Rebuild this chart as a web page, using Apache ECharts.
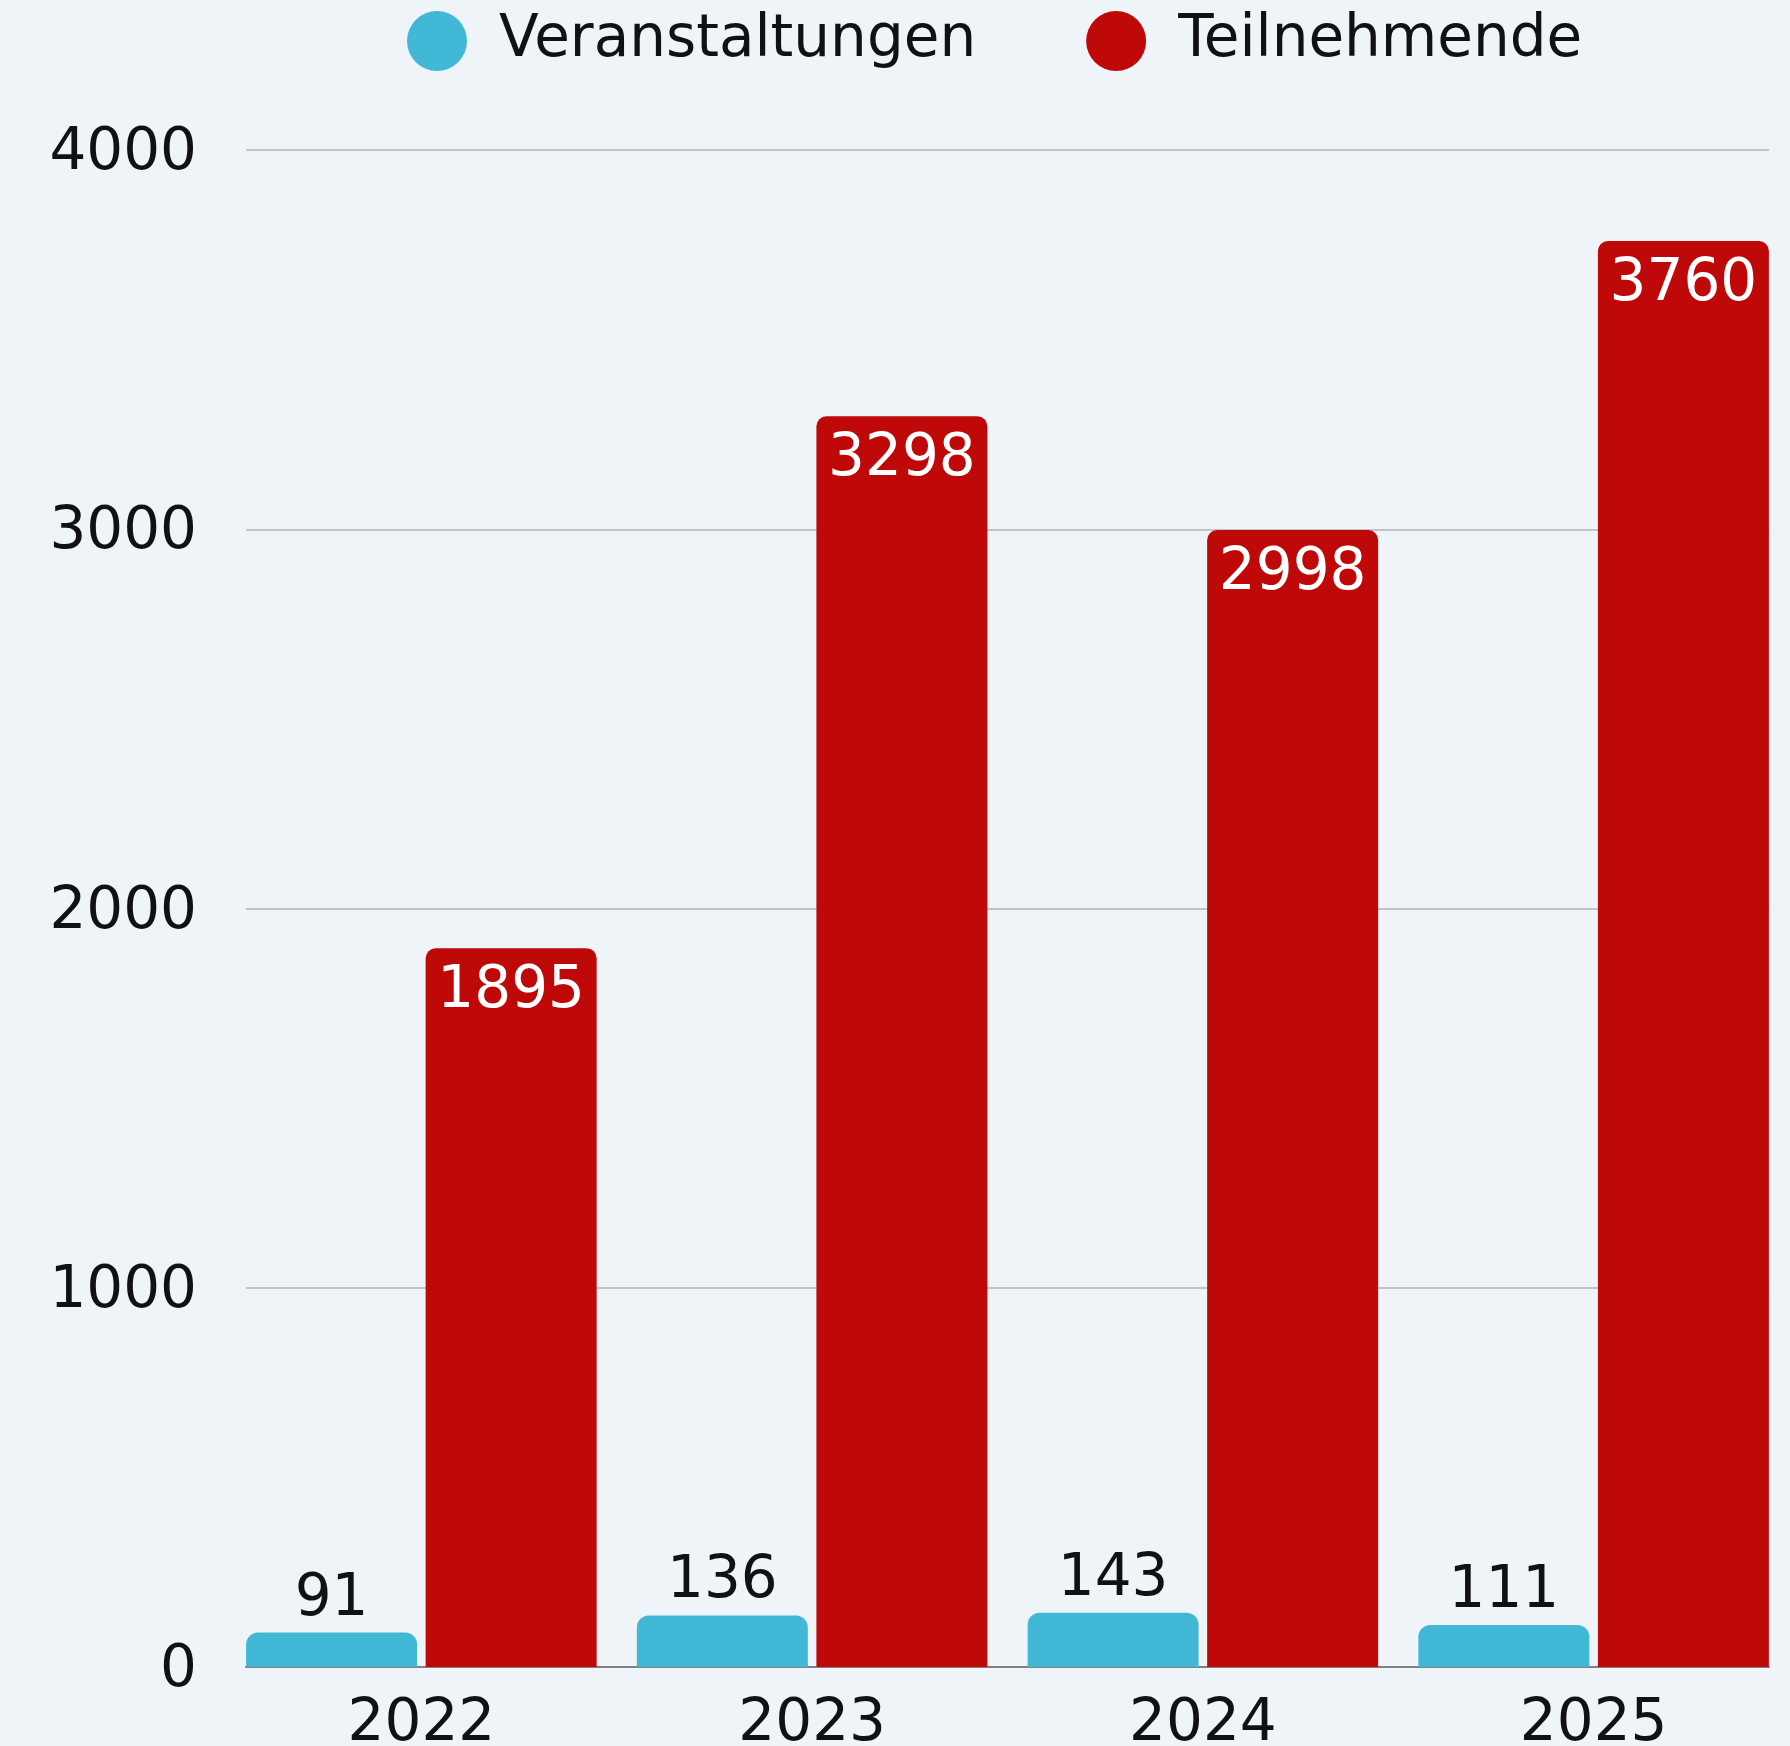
<!DOCTYPE html>
<html>
<head>
<meta charset="utf-8">
<style>
  html, body { margin: 0; padding: 0; background: #eff4f8; }
  #chart { width: 1790px; height: 1746px; }
</style>
<script src="https://cdn.jsdelivr.net/npm/echarts@6/dist/echarts.min.js"></script>
</head>
<body>
<div id="chart"></div>
<script>
// Jahre und Werte
const years = ["2022", "2023", "2024", "2025"];
const veranstaltungen = [91, 136, 143, 111];
const teilnehmende = [1895, 3298, 2998, 3760];
const yMin = 0;
const yMax = 4000;
const yStep = 1000;

const FONT = "'DejaVu Sans', Lato, sans-serif";
const BLUE = "#42b8d7";
const RED = "#bf0909";

const chart = echarts.init(document.getElementById("chart"));

const gridTop = 150;
const gridBottom = 79;

chart.setOption({
    backgroundColor: "#eff4f8",
    textStyle: { fontFamily: FONT },
    legend: {
        top: 6,
        left: 402,
        icon: "circle",
        itemWidth: 60,
        itemHeight: 60,
        itemGap: 110,
        textStyle: { fontFamily: FONT, fontSize: 58, color: "#111", padding: [0, 0, 0, 27] },
        data: ["Veranstaltungen", "Teilnehmende"],
    },
    // grid 0: bars (band width so that groups sit as in the original)
    // grid 1: frame with gridlines, y labels and base line
    grid: [
        { left: 226, right: 1, top: gridTop, bottom: gridBottom, outerBoundsMode: "none" },
        { left: 246, right: 21, top: gridTop, bottom: gridBottom, outerBoundsMode: "none" },
    ],
    xAxis: [
        {
            type: "category",
            gridIndex: 0,
            data: years,
            axisLine: { show: false },
            axisTick: { show: false },
            axisLabel: { color: "#111", fontSize: 58, fontFamily: FONT, margin: 29 },
        },
        {
            type: "category",
            gridIndex: 1,
            data: years,
            axisLine: { show: true, lineStyle: { color: "#808080", width: 2 } },
            axisTick: { show: false },
            axisLabel: { show: false },
        },
    ],
    yAxis: [
        {
            type: "value",
            gridIndex: 0,
            min: yMin,
            max: yMax,
            interval: yStep,
            show: false,
            splitLine: { show: false },
        },
        {
            type: "value",
            gridIndex: 1,
            min: yMin,
            max: yMax,
            interval: yStep,
            axisLine: { show: false },
            axisTick: { show: false },
            axisLabel: {
                color: "#111",
                fontSize: 58,
                fontFamily: FONT,
                margin: 49,
                formatter: (v) => `{v|${v}}`,
                rich: {
                    v: { color: "#111", fontSize: 58, fontFamily: FONT, padding: [8, 0, 0, 0] },
                },
            },
            splitLine: { lineStyle: { color: "#c0c4c8", width: 2 } },
        },
    ],
    series: [
        {
            name: "Veranstaltungen",
            type: "bar",
            xAxisIndex: 0,
            yAxisIndex: 0,
            data: veranstaltungen,
            barWidth: 171,
            barGap: "5%",
            itemStyle: { color: BLUE, borderRadius: [12, 12, 0, 0] },
            label: {
                show: true,
                position: "top",
                distance: 4,
                color: "#111",
                fontSize: 58,
                fontFamily: FONT,
            },
        },
        {
            name: "Teilnehmende",
            type: "bar",
            xAxisIndex: 0,
            yAxisIndex: 0,
            data: teilnehmende,
            barWidth: 171,
            barGap: "5%",
            itemStyle: { color: RED, borderRadius: [10, 10, 0, 0] },
            label: {
                show: true,
                position: "insideTop",
                distance: 15,
                color: "#fff",
                fontSize: 58,
                fontFamily: FONT,
            },
        },
    ],
});
</script>
</body>
</html>
